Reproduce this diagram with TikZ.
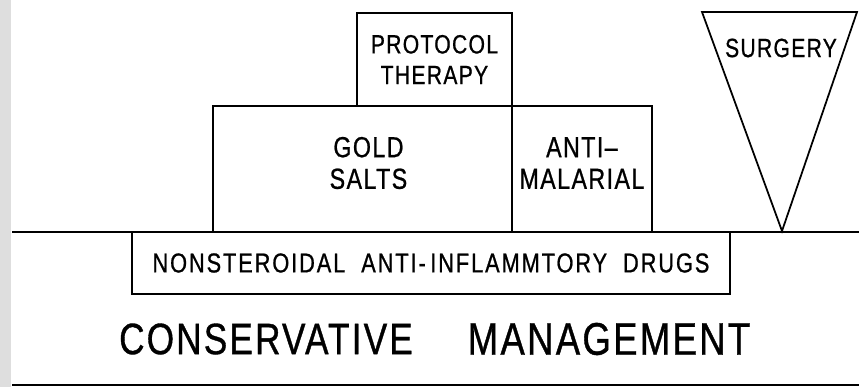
\documentclass[tikz,border=0pt]{standalone}
\usepackage{fontspec}
\newfontfamily\leroy[FakeStretch=0.8,LetterSpace=5,FakeBold=0.8]{Liberation Sans}
\newfontfamily\leroywide[FakeStretch=0.8,LetterSpace=7,FakeBold=0.8]{Liberation Sans}
\usepackage{tikz}
\usetikzlibrary{positioning}
\tikzset{
  box/.style={draw=black, line width=1pt, align=center, inner sep=0pt, outer sep=0pt, font=\leroy\fontsize{15}{17.5}\selectfont},
  boxtext/.style={align=center, inner sep=0pt, font=\leroy\fontsize{15}{17.5}\selectfont},
  bigboxtext/.style={boxtext, font=\leroy\fontsize{16.5}{18}\selectfont},
  titletext/.style={inner sep=0pt, font=\leroy\fontsize{26}{30}\selectfont},
  rule/.style={line width=1.1pt},
  scanedge/.style={fill=black!13, draw=none}
}

\begin{document}
\begin{tikzpicture}[x=0.02cm, y=-0.02cm]
\useasboundingbox (0,0) rectangle (859,387);
\fill[scanedge] (0,0) rectangle (11,387);
% ground lines
\draw[rule] (12,232) -- (859,232);
\draw[rule] (12,385) -- (859,385);
% stacked boxes
\node[box, anchor=south west, minimum width=5.98cm, minimum height=2.52cm] (gold) at (213,232) {};
\node[box, right=0pt of gold, minimum width=2.80cm, minimum height=2.52cm] (anti) {};
\node[bigboxtext] (goldtext) at ([xshift=0.12cm, yshift=0.12cm]gold.center) {GOLD\\SALTS};
\node[bigboxtext] (antitext) at ([yshift=0.12cm]anti.center) {ANTI–\\MALARIAL};
\node[box, anchor=south east, minimum width=3.10cm, minimum height=1.86cm] (protocol) at (gold.north east) {PROTOCOL\\THERAPY};
\node[box, anchor=north west, minimum width=11.96cm, minimum height=1.24cm, font=\leroywide\fontsize{15.5}{17.5}\selectfont] (nsaid) at (132,232) {NONSTEROIDAL\ \ ANTI-\,INFLAMMTORY\ \ DRUGS};
% surgery wedge
\coordinate (sl) at (702,12);
\coordinate (sr) at (857,12);
\coordinate (stip) at (782,231);
\draw[line width=1pt, line join=miter] (sl) -- (sr) -- (stip) -- cycle;
\node[boxtext] (surgery) at (781,48) {SURGERY};
% caption
\node[titletext, font=\leroy\fontsize{25}{30}\selectfont] (cons) at (266,339) {CONSERVATIVE};
\node[titletext] (mgmt) at (609,339) {MANAGEMENT};
\end{tikzpicture}
\end{document}
